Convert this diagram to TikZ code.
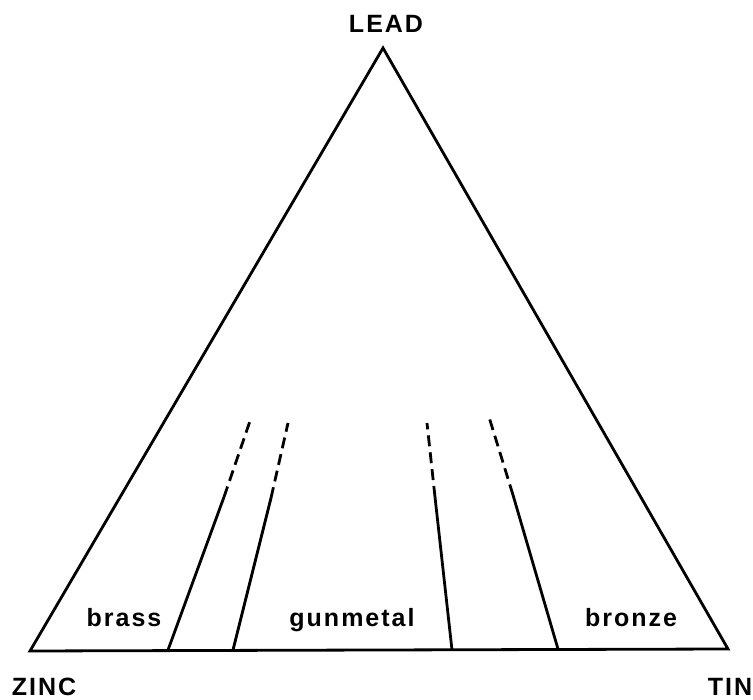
\documentclass[tikz,border=0pt]{standalone}
\usepackage{fontspec}
\setmainfont{Liberation Sans}[LetterSpace=8]
\begin{document}
\begin{tikzpicture}[x=1pt,y=-1pt,
  edge/.style={line width=2.8pt,line join=miter},
  bound/.style={line width=2.8pt},
  dashbound/.style={line width=2.8pt,dash pattern=on 11pt off 6pt},
  lbl/.style={anchor=base,inner sep=0pt,font=\fontsize{25}{25}\selectfont\bfseries}]
\useasboundingbox (0,0) rectangle (753,700);

% ternary triangle
\coordinate (lead) at (383,48);
\coordinate (zinc) at (30,651);
\coordinate (tin)  at (728,649);
\draw[edge] (zinc) -- (lead) -- (tin) -- cycle;

% alloy boundaries: solid part, then dashed extension
\coordinate (a0) at (168,650); \coordinate (a1) at (224,497); \coordinate (a2) at (250,421);
\coordinate (b0) at (233,650); \coordinate (b1) at (271,498); \coordinate (b2) at (288,423);
\coordinate (c0) at (452,650); \coordinate (c1) at (435,497); \coordinate (c2) at (427,423);
\coordinate (d0) at (558,649); \coordinate (d1) at (513,495); \coordinate (d2) at (489,417);
\draw[bound] (a0) -- (a1); \draw[dashbound] (a1) -- (a2);
\draw[bound] (b0) -- (b1); \draw[dashbound] (b1) -- (b2);
\draw[bound] (c0) -- (c1); \draw[dashbound] (c1) -- (c2);
\draw[bound] (d0) -- (d1); \draw[dashbound] (d1) -- (d2);

% labels
\node[lbl] (tlead) at (386,33) {LEAD};
\node[lbl] (tzinc) at (44,695) {ZINC};
\node[lbl] (ttin)  at (730,695) {TIN};
\node[lbl] (tbrass) at (124,626) {brass};
\node[lbl] (tgun)   at (352,626) {gunmetal};
\node[lbl] (tbron)  at (631,626) {bronze};
\end{tikzpicture}
\end{document}
